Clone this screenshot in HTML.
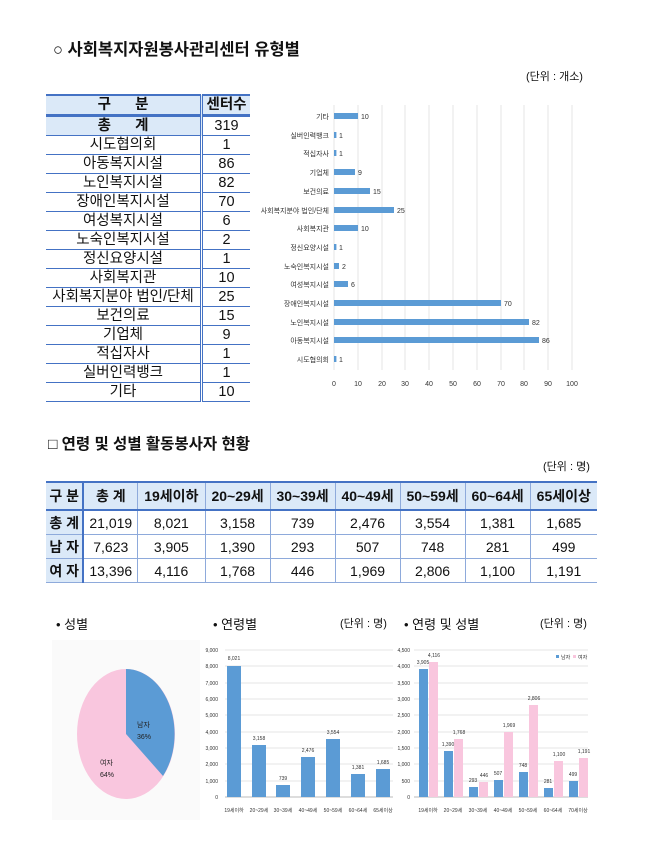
<!DOCTYPE html>
<html><head><meta charset="utf-8">
<style>
body{margin:0;background:#fff;width:670px;height:847px;position:relative;overflow:hidden;font-family:"Liberation Sans","Noto Sans CJK KR",sans-serif;color:#111}
.abs{position:absolute;white-space:nowrap}
table{border-collapse:collapse;position:absolute}
#t1{left:46px;top:94px;width:204px;font-size:14.5px}
#t1 td{border-bottom:1.5px solid #4472c4;text-align:center;height:18px;padding:0;line-height:18px}
#t1 td:first-child{border-right:3px double #4472c4;width:154px}
#t1 tr.h td{background:#dbe9f8;font-weight:bold;height:18px;border-top:2px solid #4472c4;border-bottom:3px solid #4472c4}
#t1 tr.tt td:first-child{background:#dbe9f8;font-weight:bold}
#t2{left:46px;top:481px;width:551px;font-size:14px}
#t2 td{text-align:center;padding:0;height:23px;border-left:1px solid #8eaadb;border-bottom:1px solid #8eaadb}
#t2 tr.h td{background:#dbe9f8;font-weight:bold;height:26px;border-top:2px solid #4472c4;border-bottom:2px solid #4472c4}
#t2 td:first-child{background:#dbe9f8;font-weight:bold;border-left:none;border-right:2px solid #4472c4}
</style></head><body>
<div class="abs" style="left:53px;top:36px;font-size:16.5px;font-weight:bold">○ 사회복지자원봉사관리센터 유형별</div>
<div class="abs" style="left:526px;top:68px;font-size:11px">(단위 : 개소)</div>
<table id="t1">
<tr class="h"><td>구&nbsp;&nbsp;&nbsp;&nbsp;&nbsp;&nbsp;분</td><td>센터수</td></tr>
<tr class="tt"><td>총&nbsp;&nbsp;&nbsp;&nbsp;&nbsp;&nbsp;계</td><td>319</td></tr>
<tr><td>시도협의회</td><td>1</td></tr>
<tr><td>아동복지시설</td><td>86</td></tr>
<tr><td>노인복지시설</td><td>82</td></tr>
<tr><td>장애인복지시설</td><td>70</td></tr>
<tr><td>여성복지시설</td><td>6</td></tr>
<tr><td>노숙인복지시설</td><td>2</td></tr>
<tr><td>정신요양시설</td><td>1</td></tr>
<tr><td>사회복지관</td><td>10</td></tr>
<tr><td>사회복지분야 법인/단체</td><td>25</td></tr>
<tr><td>보건의료</td><td>15</td></tr>
<tr><td>기업체</td><td>9</td></tr>
<tr><td>적십자사</td><td>1</td></tr>
<tr><td>실버인력뱅크</td><td>1</td></tr>
<tr><td>기타</td><td>10</td></tr>
</table>
<svg class="abs" style="left:0;top:0" width="670" height="847" font-family="Liberation Sans,Noto Sans CJK KR,sans-serif">
<g stroke="#e4e4e4" stroke-width="1">
<line x1="334" y1="105" x2="334" y2="370"/><line x1="358" y1="105" x2="358" y2="370"/><line x1="382" y1="105" x2="382" y2="370"/><line x1="405" y1="105" x2="405" y2="370"/><line x1="429" y1="105" x2="429" y2="370"/><line x1="453" y1="105" x2="453" y2="370"/><line x1="477" y1="105" x2="477" y2="370"/><line x1="501" y1="105" x2="501" y2="370"/><line x1="524" y1="105" x2="524" y2="370"/><line x1="548" y1="105" x2="548" y2="370"/><line x1="572" y1="105" x2="572" y2="370"/>
</g>
<g font-size="7" fill="#333" text-anchor="middle">
<text x="334" y="386">0</text><text x="358" y="386">10</text><text x="382" y="386">20</text><text x="405" y="386">30</text><text x="429" y="386">40</text><text x="453" y="386">50</text><text x="477" y="386">60</text><text x="501" y="386">70</text><text x="524" y="386">80</text><text x="548" y="386">90</text><text x="572" y="386">100</text>
</g>
<g fill="#5b9bd5">
<rect x="334" y="113" width="24" height="6"/><rect x="334" y="132" width="2.4" height="6"/><rect x="334" y="150" width="2.4" height="6"/><rect x="334" y="169" width="21" height="6"/><rect x="334" y="188" width="36" height="6"/><rect x="334" y="207" width="60" height="6"/><rect x="334" y="225" width="24" height="6"/><rect x="334" y="244" width="2.4" height="6"/><rect x="334" y="263" width="5" height="6"/><rect x="334" y="281" width="14" height="6"/><rect x="334" y="300" width="167" height="6"/><rect x="334" y="319" width="195" height="6"/><rect x="334" y="337" width="205" height="6"/><rect x="334" y="356" width="2.4" height="6"/>
</g>
<g font-size="7" fill="#333">
<text x="361" y="119">10</text><text x="339" y="138">1</text><text x="339" y="156">1</text><text x="358" y="175">9</text><text x="373" y="194">15</text><text x="397" y="213">25</text><text x="361" y="231">10</text><text x="339" y="250">1</text><text x="342" y="269">2</text><text x="351" y="287">6</text><text x="504" y="306">70</text><text x="532" y="325">82</text><text x="542" y="343">86</text><text x="339" y="362">1</text>
</g>
<g font-size="7" fill="#333" text-anchor="end">
<text x="329" y="119">기타</text><text x="329" y="138">실버인력뱅크</text><text x="329" y="156">적십자사</text><text x="329" y="175">기업체</text><text x="329" y="194">보건의료</text><text x="329" y="213">사회복지분야 법인/단체</text><text x="329" y="231">사회복지관</text><text x="329" y="250">정신요양시설</text><text x="329" y="269">노숙인복지시설</text><text x="329" y="287">여성복지시설</text><text x="329" y="306">장애인복지시설</text><text x="329" y="325">노인복지시설</text><text x="329" y="343">아동복지시설</text><text x="329" y="362">시도협의회</text>
</g>

<rect x="52" y="640" width="148" height="180" fill="#fafafa"/>
<ellipse cx="126" cy="734" rx="49" ry="65" fill="#f9c6de"/>
<path d="M126,734 L126,669 A49,65 0 0 1 163,776 Z" fill="#5b9bd5"/>
<text x="137" y="727" font-size="7" fill="#222">남자</text><text x="137" y="739" font-size="7" fill="#222">36%</text>
<text x="100" y="765" font-size="7" fill="#222">여자</text><text x="100" y="777" font-size="7" fill="#222">64%</text>

<g stroke="#e4e4e4"><line x1="225" y1="650" x2="393" y2="650"/><line x1="225" y1="666" x2="393" y2="666"/><line x1="225" y1="683" x2="393" y2="683"/><line x1="225" y1="699" x2="393" y2="699"/><line x1="225" y1="715" x2="393" y2="715"/><line x1="225" y1="732" x2="393" y2="732"/><line x1="225" y1="748" x2="393" y2="748"/><line x1="225" y1="764" x2="393" y2="764"/><line x1="225" y1="781" x2="393" y2="781"/><line x1="225" y1="797" x2="393" y2="797" stroke="#bbb"/></g>
<g font-size="5" fill="#333" text-anchor="end"><text x="218" y="652">9,000</text><text x="218" y="668">8,000</text><text x="218" y="685">7,000</text><text x="218" y="701">6,000</text><text x="218" y="717">5,000</text><text x="218" y="734">4,000</text><text x="218" y="750">3,000</text><text x="218" y="766">2,000</text><text x="218" y="783">1,000</text><text x="218" y="799">0</text></g>
<g fill="#5b9bd5"><rect x="227" y="666" width="14" height="131"/><rect x="252" y="745" width="14" height="52"/><rect x="276" y="785" width="14" height="12"/><rect x="301" y="757" width="14" height="40"/><rect x="326" y="739" width="14" height="58"/><rect x="351" y="774" width="14" height="23"/><rect x="376" y="769" width="14" height="28"/></g>
<g font-size="5" fill="#333" text-anchor="middle"><text x="234" y="660">8,021</text><text x="259" y="740">3,158</text><text x="283" y="780">739</text><text x="308" y="752">2,476</text><text x="333" y="734">3,554</text><text x="358" y="769">1,381</text><text x="383" y="764">1,685</text>
<text x="234" y="812">19세이하</text><text x="259" y="812">20~29세</text><text x="283" y="812">30~39세</text><text x="308" y="812">40~49세</text><text x="333" y="812">50~59세</text><text x="358" y="812">60~64세</text><text x="383" y="812">65세이상</text></g>

<g stroke="#e4e4e4"><line x1="414" y1="650" x2="588" y2="650"/><line x1="414" y1="666" x2="588" y2="666"/><line x1="414" y1="683" x2="588" y2="683"/><line x1="414" y1="699" x2="588" y2="699"/><line x1="414" y1="715" x2="588" y2="715"/><line x1="414" y1="732" x2="588" y2="732"/><line x1="414" y1="748" x2="588" y2="748"/><line x1="414" y1="764" x2="588" y2="764"/><line x1="414" y1="781" x2="588" y2="781"/><line x1="414" y1="797" x2="588" y2="797" stroke="#bbb"/></g>
<g font-size="5" fill="#333" text-anchor="end"><text x="410" y="652">4,500</text><text x="410" y="668">4,000</text><text x="410" y="685">3,500</text><text x="410" y="701">3,000</text><text x="410" y="717">2,500</text><text x="410" y="734">2,000</text><text x="410" y="750">1,500</text><text x="410" y="766">1,000</text><text x="410" y="783">500</text><text x="410" y="799">0</text></g>
<g fill="#5b9bd5"><rect x="419" y="669" width="9" height="128"/><rect x="444" y="751" width="9" height="46"/><rect x="469" y="787" width="9" height="10"/><rect x="494" y="780" width="9" height="17"/><rect x="519" y="772" width="9" height="25"/><rect x="544" y="788" width="9" height="9"/><rect x="569" y="781" width="9" height="16"/></g>
<g fill="#f9c6de"><rect x="429" y="662" width="9" height="135"/><rect x="454" y="739" width="9" height="58"/><rect x="479" y="782" width="9" height="15"/><rect x="504" y="732" width="9" height="65"/><rect x="529" y="705" width="9" height="92"/><rect x="554" y="761" width="9" height="36"/><rect x="579" y="758" width="9" height="39"/></g>
<g font-size="5" fill="#333" text-anchor="middle"><text x="423" y="664">3,905</text><text x="434" y="657">4,116</text><text x="448" y="746">1,390</text><text x="459" y="734">1,768</text><text x="473" y="782">293</text><text x="484" y="777">446</text><text x="498" y="775">507</text><text x="509" y="727">1,969</text><text x="523" y="767">748</text><text x="534" y="700">2,806</text><text x="548" y="783">281</text><text x="559" y="756">1,100</text><text x="573" y="776">499</text><text x="584" y="753">1,191</text>
<text x="428" y="812">19세이하</text><text x="453" y="812">20~29세</text><text x="478" y="812">30~39세</text><text x="503" y="812">40~49세</text><text x="528" y="812">50~59세</text><text x="553" y="812">60~64세</text><text x="578" y="812">70세이상</text></g>
<rect x="556" y="655" width="3" height="3" fill="#5b9bd5"/><text x="561" y="659" font-size="5" fill="#333">남자</text>
<rect x="573" y="655" width="3" height="3" fill="#f9c6de"/><text x="578" y="659" font-size="5" fill="#333">여자</text>
</svg>
<div class="abs" style="left:48px;top:432px;font-size:15.5px;font-weight:bold">□ 연령 및 성별 활동봉사자 현황</div>
<div class="abs" style="left:543px;top:458px;font-size:11px">(단위 : 명)</div>
<table id="t2">
<tr class="h"><td>구 분</td><td>총 계</td><td>19세이하</td><td>20~29세</td><td>30~39세</td><td>40~49세</td><td>50~59세</td><td>60~64세</td><td>65세이상</td></tr>
<tr><td>총 계</td><td>21,019</td><td>8,021</td><td>3,158</td><td>739</td><td>2,476</td><td>3,554</td><td>1,381</td><td>1,685</td></tr>
<tr><td>남 자</td><td>7,623</td><td>3,905</td><td>1,390</td><td>293</td><td>507</td><td>748</td><td>281</td><td>499</td></tr>
<tr><td>여 자</td><td>13,396</td><td>4,116</td><td>1,768</td><td>446</td><td>1,969</td><td>2,806</td><td>1,100</td><td>1,191</td></tr>
</table>
<div class="abs" style="left:56px;top:614px;font-size:13px">• 성별</div>
<div class="abs" style="left:213px;top:614px;font-size:13px">• 연령별</div>
<div class="abs" style="left:340px;top:615px;font-size:11px">(단위 : 명)</div>
<div class="abs" style="left:404px;top:614px;font-size:13px">• 연령 및 성별</div>
<div class="abs" style="left:540px;top:615px;font-size:11px">(단위 : 명)</div>
</body></html>
